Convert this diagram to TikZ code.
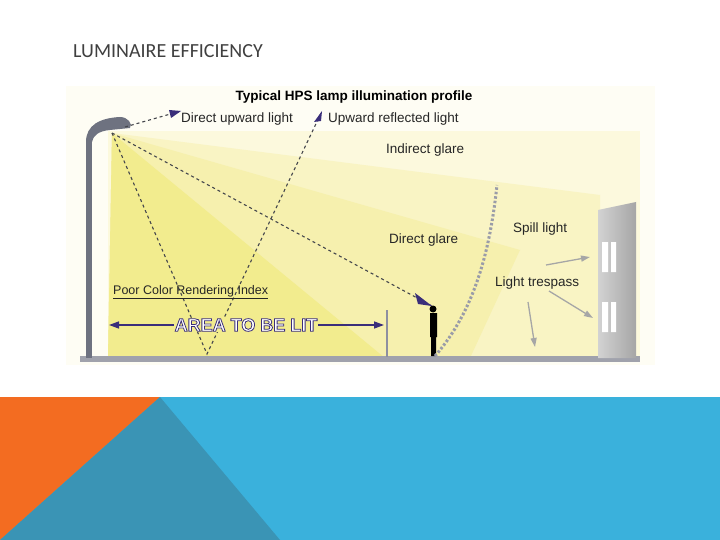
\documentclass[tikz,border=0pt]{standalone}
\usepackage{fontspec}
\setmainfont{Liberation Sans}
\newfontfamily\titlefont{Carlito}
\usetikzlibrary{arrows.meta}
\definecolor{navy}{HTML}{3A2E7A}
\definecolor{polegray}{HTML}{6E7280}
\definecolor{dotgray}{HTML}{44464C}
\definecolor{blueband}{HTML}{3AB1DC}
\definecolor{orng}{HTML}{F36C21}
\definecolor{tealc}{HTML}{3A94B5}
\definecolor{bg0}{HTML}{FEFDF4}
\definecolor{bg1}{HTML}{FCF9DD}
\definecolor{bg2}{HTML}{F9F4C4}
\definecolor{bg3}{HTML}{F6F0AE}
\definecolor{bg4}{HTML}{F2EC8E}
\definecolor{groundc}{HTML}{A0A2AC}
\definecolor{fencec}{HTML}{8E90A0}
\definecolor{curvec}{HTML}{9A9CA8}
\tikzset{
  lbl/.style={font=\fontsize{13.5}{15}\selectfont, anchor=west, inner sep=0pt, text=black!85},
  ray/.style={dotgray, line width=1.1pt, dash pattern=on 3pt off 3pt},
  grayarrow/.style={-{Triangle[length=9pt,width=6pt]}, gray!70, line width=1.3pt}
}
\begin{document}
\begin{tikzpicture}[x=1pt,y=-1pt]
\useasboundingbox (0,0) rectangle (720,540);
\fill[white] (0,0) rectangle (720,540);
\node[anchor=west, inner sep=0pt, font=\titlefont\fontsize{20}{24}\selectfont, text=black!75] (title) at (73,51) {LUMINAIRE EFFICIENCY};
\fill[blueband] (0,397) rectangle (720,540);
\fill[orng] (0,397) -- (160,397) -- (0,540) -- cycle;
\fill[tealc] (0,540) -- (160,397) -- (280,540) -- cycle;
\fill[bg0] (66,86) rectangle (655,365);
\fill[bg1] (108,131) -- (640,131) -- (640,358) -- (108,358) -- cycle;
\fill[bg2] (112,133) -- (600,195) -- (600,358) -- (108,358) -- cycle;
\fill[bg3] (112,133) -- (520,250) -- (470,358) -- (108,358) -- cycle;
\fill[bg4] (112,133) -- (385,358) -- (108,358) -- cycle;
\fill[groundc] (80,356) rectangle (640,362);
\fill[polegray] (86,140) rectangle (92,358);
\fill[polegray] (86,142) .. controls (86,125) and (100,118) .. (120,117) .. controls (128,117) and (133,124) .. (130,128) -- (110,130) .. controls (98,131) and (93,136) .. (92,142) -- cycle;
\coordinate (lamp) at (112,133);
\draw[fencec, line width=2.5pt] (387,310) -- (387,357);
\coordinate (upA) at (181,111);
\coordinate (refl) at (207,354);
\coordinate (refA) at (322,111);
\coordinate (eye) at (432,306);
\draw[ray] (125,127) -- (upA);
\draw[ray] (lamp) -- (refl) -- (refA);
\draw[ray] (lamp) -- (eye);
\fill[navy] (eye) -- ++(-17,-13) -- ++(3,11) -- cycle;
\fill[navy] (refA) -- ++(-8,11) -- ++(7,-1) -- cycle;
\fill[navy] (upA) -- ++(-12,-1) -- ++(2,8) -- cycle;
\fill[black] (433,309) circle (3.5) (430,313) rectangle (437,337) (431,337) rectangle (436,356);
\draw[curvec, line width=3pt, dash pattern=on 2.5pt off 2pt] (435,356) .. controls (475,310) and (490,250) .. (497,185);
\shade[left color=gray!35, right color=gray!70] (598,210) -- (636,202) -- (636,358) -- (598,358) -- cycle;
\fill[white] (602,242) rectangle (608,272) (611,242) rectangle (616,272) (602,302) rectangle (608,332) (611,302) rectangle (616,332);
\draw[grayarrow] (546,265) -- (590,257);
\draw[grayarrow] (549,291) -- (593,318);
\draw[grayarrow] (528,302) -- (535,347);
\draw[navy, line width=1.3pt, {Triangle[length=10pt,width=7pt]}-{Triangle[length=10pt,width=7pt]}] (109,325) -- (384,325);
\node[fill=bg4, inner sep=1pt, font=\bfseries\fontsize{18}{20}\selectfont, text=white] (area) at (246,325) {\special{pdf:literal 2 Tr 0.8 w 0.23 0.18 0.48 RG}AREA TO BE LIT\special{pdf:literal 0 Tr}};
\node[lbl, font=\fontsize{12.5}{14}\selectfont] (cri) at (113,292) {\underline{Poor Color Rendering Index}};
\node[font=\bfseries\fontsize{13.5}{15}\selectfont, inner sep=0pt] (head) at (354,97) {Typical HPS lamp illumination profile};
\node[lbl] (l1) at (181,119) {Direct upward light};
\node[lbl] (l2) at (328,119) {Upward reflected light};
\node[lbl] (l3) at (386,150) {Indirect glare};
\node[lbl] (l4) at (389,240) {Direct glare};
\node[lbl] (l5) at (513,229) {Spill light};
\node[lbl] (l6) at (495,283) {Light trespass};
\end{tikzpicture}
\end{document}
